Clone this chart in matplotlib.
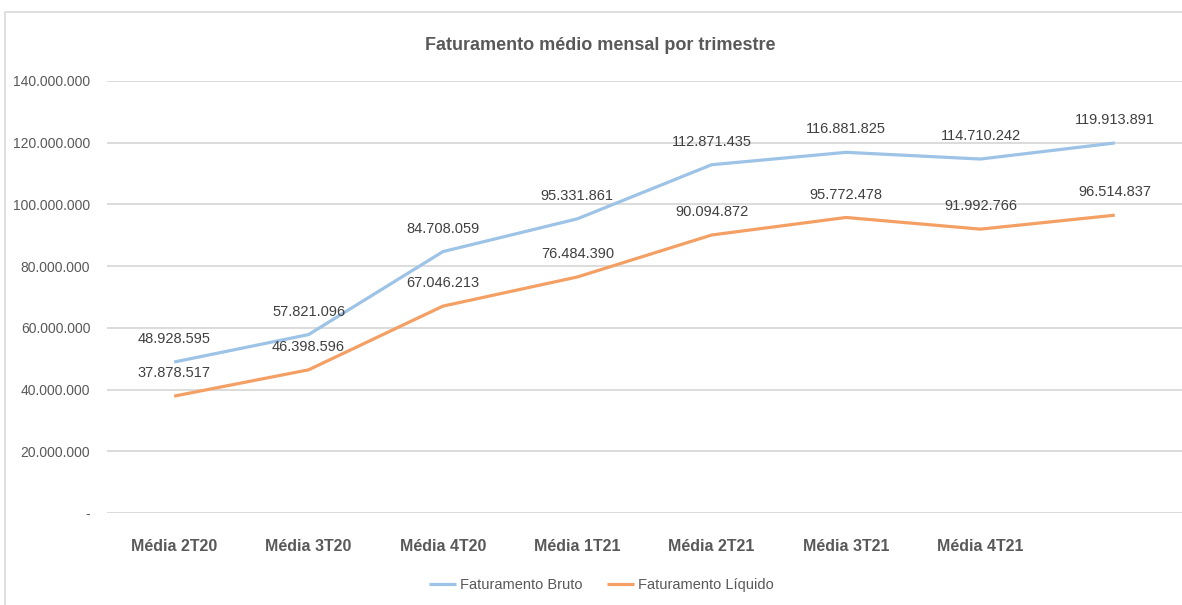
import matplotlib
matplotlib.use('Agg')
import matplotlib.pyplot as plt
from matplotlib.patches import Rectangle
from matplotlib.ticker import FuncFormatter

plt.rcParams['font.family'] = ['Liberation Sans', 'DejaVu Sans']

# Data
categories = ['Média 2T20', 'Média 3T20', 'Média 4T20', 'Média 1T21',
              'Média 2T21', 'Média 3T21', 'Média 4T21', '']
bruto = [48928595, 57821096, 84708059, 95331861, 112871435, 116881825, 114710242, 119913891]
liquido = [37878517, 46398596, 67046213, 76484390, 90094872, 95772478, 91992766, 96514837]
y_ticks = [0, 20000000, 40000000, 60000000, 80000000, 100000000, 120000000, 140000000]

text_color = '#595959'
label_color = '#404040'
grid_color = '#d9d9d9'
blue = '#9dc3e6'
orange = '#f4a064'


def br_format(v, pos=None):
    if v == 0:
        return '-'
    return '{:,.0f}'.format(v).replace(',', '.')


fig = plt.figure(figsize=(11.82, 6.05), dpi=100)
ax = fig.add_axes([107 / 1182, 1 - 513 / 605, 1 - 107 / 1182, (513 - 81) / 605])

# outer chart border (left and top visible)
fig.patches.append(Rectangle((5 / 1182, -0.1), 1.2, 1 - 12 / 605 + 0.1, transform=fig.transFigure,
                             fill=False, edgecolor=grid_color, linewidth=1.2))

x = list(range(len(categories)))
ax.plot(x, bruto, color=blue, linewidth=2.3, label='Faturamento Bruto', solid_capstyle='butt')
ax.plot(x, liquido, color=orange, linewidth=2.3, label='Faturamento Líquido', solid_capstyle='butt')

for xi, v in zip(x, bruto):
    ax.annotate(br_format(v), (xi, v), xytext=(0, 16.5), textcoords='offset points',
                ha='center', va='center', fontsize=10.5, color=label_color)
for xi, v in zip(x, liquido):
    ax.annotate(br_format(v), (xi, v), xytext=(0, 16.5), textcoords='offset points',
                ha='center', va='center', fontsize=10.5, color=label_color)

ax.set_xlim(-0.5, len(categories) - 0.5)
ax.set_ylim(0, 140000000)
ax.set_yticks(y_ticks)
ax.yaxis.set_major_formatter(FuncFormatter(br_format))
ax.set_xticks(x)
ax.set_xticklabels(categories, fontsize=11.5, fontweight='bold', color=text_color)
ax.tick_params(axis='x', length=0, pad=18.5)
ax.tick_params(axis='y', length=0, pad=12, labelsize=10, labelcolor=text_color)
ax.grid(axis='y', color=grid_color, linewidth=1.3)
ax.set_axisbelow(True)
for s in ax.spines.values():
    s.set_visible(False)

fig.text(0.508, 1 - 46 / 605, 'Faturamento médio mensal por trimestre', ha='center', va='center',
         fontsize=13, fontweight='bold', color=text_color)

fig.legend(loc='center', bbox_to_anchor=(0.509, 1 - 585 / 605), ncol=2, frameon=False,
           fontsize=10.5, labelcolor=text_color, handlelength=1.85, handletextpad=0.25,
           columnspacing=1.7)

fig.savefig('out.png', dpi=100)
